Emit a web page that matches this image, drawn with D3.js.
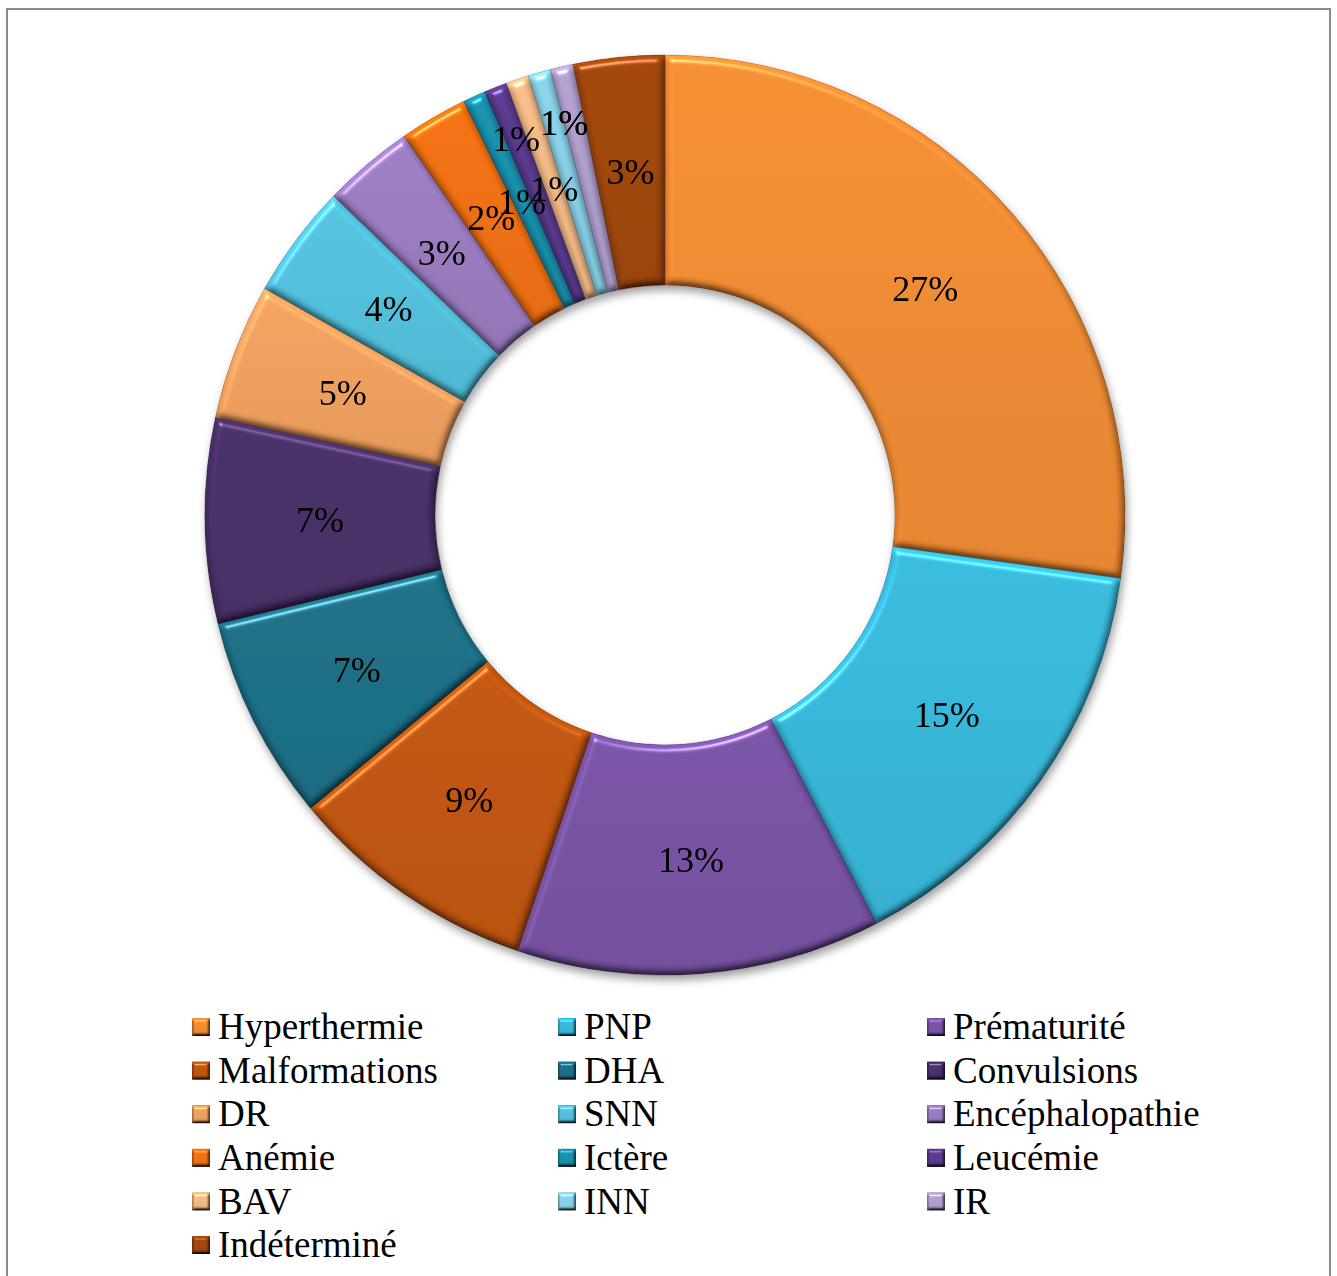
<!DOCTYPE html>
<html>
<head>
<meta charset="utf-8">
<script src="https://cdn.jsdelivr.net/npm/d3@7"></script>
<style>
  html, body { margin: 0; padding: 0; background: #fff; }
  svg { display: block; }
</style>
</head>
<body>
<svg id="chart" width="1337" height="1276"></svg>
<script>
// Causes, in legend order, with the number of cases for each
const categories = ["Hyperthermie", "PNP", "Prématurité", "Malformations", "DHA", "Convulsions",
                    "DR", "SNN", "Encéphalopathie", "Anémie", "Ictère", "Leucémie",
                    "BAV", "INN", "IR", "Indéterminé"];
const counts = [34, 19, 16, 11, 9, 9, 6, 5, 4, 3, 1, 1, 1, 1, 1, 4];
const sliceColors = ["#EE8A32", "#36B6D8", "#7650A2", "#BF540E", "#1B6E84", "#472E66",
                     "#EE9F5C", "#50BFDB", "#9879BE", "#EE6E10", "#178EAC", "#58388C",
                     "#F2B985", "#86D0E6", "#AF9ECD", "#9E450C"];

// thin slices whose labels are pushed outwards; the last two share one spot
const raisedLabels = ["Leucémie", "INN", "IR"];
const sharedLabels = ["INN", "IR"];

const W = 1337, H = 1276;
const cx = 665, cy = 515;
const outerR = 460, innerR = 230;
const labelFont = "'Liberation Serif', 'Times New Roman', serif";

const svg = d3.select("#chart");
const defs = svg.append("defs");

const data = categories.map((name, i) => ({ name, count: counts[i], color: sliceColors[i] }));
const total = d3.sum(counts);

// ---- filters ----------------------------------------------------------
function bevel(id, blur, scale, spec) {
  const f = defs.append("filter").attr("id", id)
    .attr("x", "-30%").attr("y", "-30%").attr("width", "160%").attr("height", "160%")
    .attr("color-interpolation-filters", "sRGB");
  const el = 60;
  f.append("feGaussianBlur").attr("in", "SourceAlpha").attr("stdDeviation", blur).attr("result", "blur");
  f.append("feDiffuseLighting").attr("in", "blur").attr("surfaceScale", scale)
    .attr("diffuseConstant", 1).attr("lighting-color", "#fff").attr("result", "diff")
    .append("feDistantLight").attr("azimuth", 250).attr("elevation", el);
  f.append("feComposite").attr("in", "SourceGraphic").attr("in2", "diff")
    .attr("operator", "arithmetic").attr("k1", 1 / Math.sin(el * Math.PI / 180))
    .attr("k2", 0).attr("k3", 0).attr("k4", 0).attr("result", "shaded");
  f.append("feSpecularLighting").attr("in", "blur").attr("surfaceScale", scale)
    .attr("specularConstant", spec).attr("specularExponent", 100)
    .attr("lighting-color", "#fff").attr("result", "spec")
    .append("feDistantLight").attr("azimuth", 250).attr("elevation", el);
  f.append("feComposite").attr("in", "spec").attr("in2", "SourceAlpha")
    .attr("operator", "in").attr("result", "specIn");
  f.append("feComposite").attr("in", "shaded").attr("in2", "specIn")
    .attr("operator", "arithmetic").attr("k1", 0).attr("k2", 1).attr("k3", 1).attr("k4", 0);
}
bevel("bevel", 3.5, 3.5, 0.45);
bevel("bevelSmall", 1.6, 3, 0.55);

const shadow = defs.append("filter").attr("id", "shadow")
  .attr("x", "-10%").attr("y", "-10%").attr("width", "120%").attr("height", "120%");
shadow.append("feGaussianBlur").attr("in", "SourceAlpha").attr("stdDeviation", 4).attr("result", "b");
shadow.append("feOffset").attr("in", "b").attr("dx", 2).attr("dy", 5).attr("result", "o");
shadow.append("feFlood").attr("flood-color", "#000").attr("flood-opacity", 0.38).attr("result", "c");
shadow.append("feComposite").attr("in", "c").attr("in2", "o").attr("operator", "in").attr("result", "s");
const merge = shadow.append("feMerge");
merge.append("feMergeNode").attr("in", "s");
merge.append("feMergeNode").attr("in", "SourceGraphic");

// vertical gradient for each colour
data.forEach((d, i) => {
  const g = defs.append("linearGradient").attr("id", "grad" + i)
    .attr("x1", 0).attr("y1", 0).attr("x2", 0).attr("y2", 1);
  g.append("stop").attr("offset", "0%").attr("stop-color", d3.rgb(d.color).brighter(0.06));
  g.append("stop").attr("offset", "100%").attr("stop-color", d3.rgb(d.color).darker(0.16));
});

// ---- frame --------------------------------------------------------------
svg.append("rect").attr("x", 7).attr("y", 9).attr("width", 1323).attr("height", 1320)
  .attr("fill", "#fff").attr("stroke", "#8a8a8a").attr("stroke-width", 2);

// ---- donut --------------------------------------------------------------
const pie = d3.pie().sort(null).value(d => d.count);
const arcs = pie(data);
const arc = d3.arc().innerRadius(innerR).outerRadius(outerR);
const midArc = d3.arc().innerRadius((innerR + outerR) / 2).outerRadius((innerR + outerR) / 2);
const highArc = d3.arc().innerRadius(405).outerRadius(405);

const donut = svg.append("g").attr("transform", `translate(${cx},${cy})`).attr("filter", "url(#shadow)");
donut.selectAll("path.slice").data(arcs).join("path")
  .attr("class", "slice")
  .attr("d", arc)
  .attr("fill", (d, i) => `url(#grad${i})`)
  .attr("stroke", d => d3.rgb(d.data.color).darker(0.9))
  .attr("stroke-opacity", 0.35)
  .attr("stroke-width", 1)
  .attr("filter", "url(#bevel)");

// label positions
const shared = arcs.filter(a => sharedLabels.includes(a.data.name));
const sharedAngle = d3.mean(shared, a => (a.startAngle + a.endAngle) / 2);
function labelPos(a) {
  if (sharedLabels.includes(a.data.name)) {
    return highArc.centroid({ startAngle: sharedAngle, endAngle: sharedAngle });
  }
  if (raisedLabels.includes(a.data.name)) return highArc.centroid(a);
  return midArc.centroid(a);
}

const labels = svg.append("g").attr("transform", `translate(${cx},${cy})`);
labels.selectAll("text").data(arcs).join("text")
  .attr("x", a => labelPos(a)[0])
  .attr("y", a => labelPos(a)[1])
  .attr("dy", "0.35em")
  .attr("text-anchor", "middle")
  .attr("font-family", labelFont)
  .attr("font-size", 36)
  .attr("fill", "#000")
  .text(a => Math.round(a.data.count / total * 100) + "%");

// ---- legend -------------------------------------------------------------
const legendX = [192, 558, 927];
const legendY0 = 1027, legendStep = 43.6, box = 18;
const legend = svg.append("g");
const items = legend.selectAll("g.item").data(data).join("g")
  .attr("class", "item")
  .attr("transform", (d, i) => `translate(${legendX[i % 3]},${legendY0 + Math.floor(i / 3) * legendStep})`);
items.append("rect")
  .attr("x", 0).attr("y", -box / 2).attr("width", box).attr("height", box)
  .attr("fill", (d, i) => `url(#grad${i})`)
  .attr("filter", "url(#bevelSmall)");
items.append("text")
  .attr("x", 26).attr("y", 0).attr("dy", "0.33em")
  .attr("font-family", labelFont)
  .attr("font-size", 37)
  .attr("fill", "#000")
  .text(d => d.name);
</script>
</body>
</html>
